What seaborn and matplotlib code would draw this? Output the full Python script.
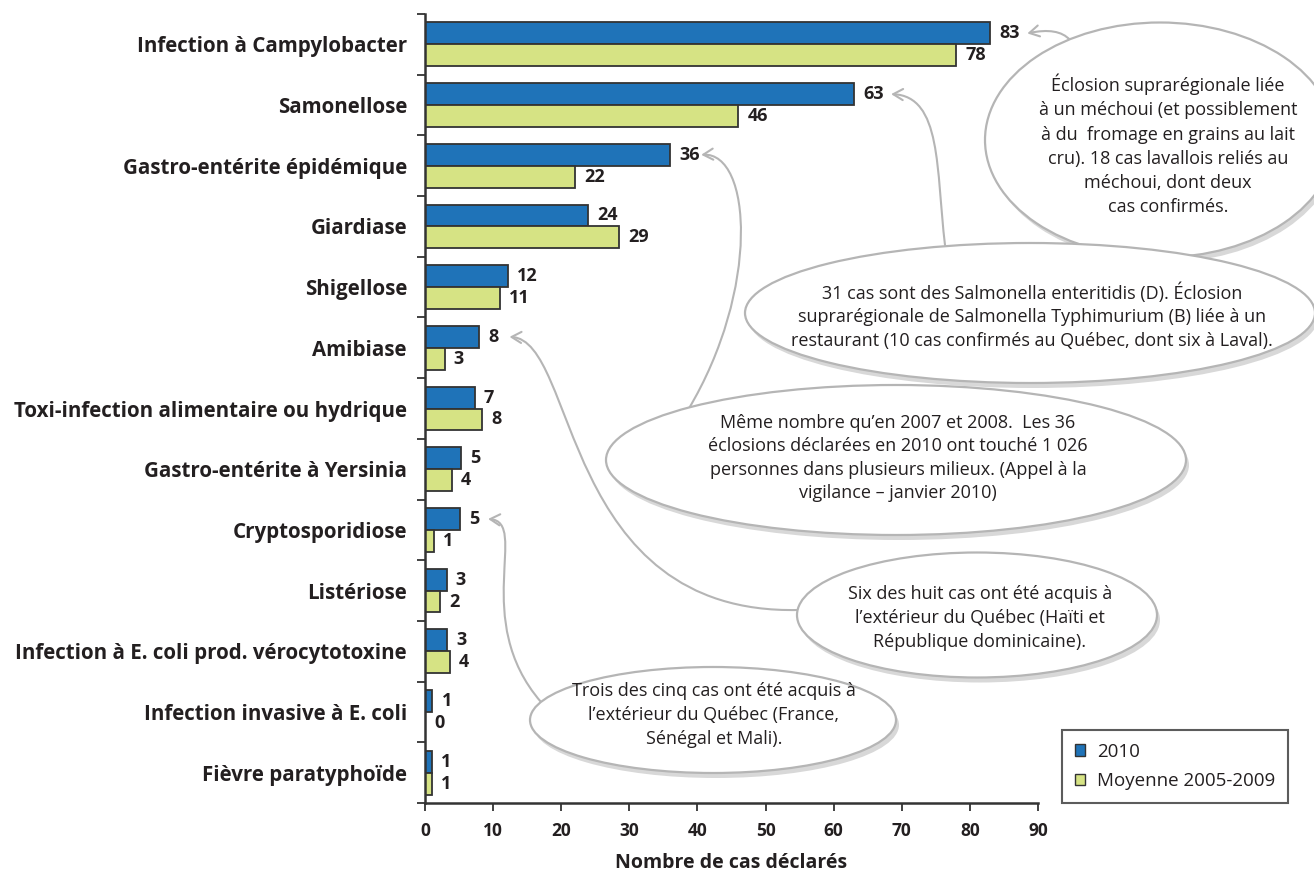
import numpy as np
import pandas as pd
import seaborn as sns
import matplotlib.pyplot as plt
from matplotlib.patches import Ellipse, Patch, FancyArrowPatch
from matplotlib.path import Path

maladies = ["Infection à Campylobacter", "Samonellose", "Gastro-entérite épidémique",
            "Giardiase", "Shigellose", "Amibiase", "Toxi-infection alimentaire ou hydrique",
            "Gastro-entérite à Yersinia", "Cryptosporidiose", "Listériose",
            "Infection à E. coli prod. vérocytotoxine", "Infection invasive à E. coli",
            "Fièvre paratyphoïde"]
cas_2010 = [83, 63, 36, 24, 12, 8, 7, 5, 5, 3, 3, 1, 1]
cas_moyenne = [78, 46, 22, 29, 11, 3, 8, 4, 1, 2, 4, 0, 1]
# bar lengths as drawn in the source (averages are not whole numbers)
bar_2010 = [83, 63, 36, 24, 12.2, 8, 7.3, 5.3, 5.1, 3.2, 3.3, 1.1, 1.0]
bar_moyenne = [78, 46, 22, 28.5, 11, 2.9, 8.4, 3.9, 1.3, 2.2, 3.7, 0, 1.0]
series = ["2010", "Moyenne 2005-2009"]
couleurs = ["#1f73b8", "#d6e384"]

notes = [
    "Éclosion suprarégionale liée\nà un méchoui (et possiblement\nà du  fromage en grains au lait\ncru). 18 cas lavallois reliés au\nméchoui, dont deux\ncas confirmés.",
    "31 cas sont des Salmonella enteritidis (D). Éclosion\nsuprarégionale de Salmonella Typhimurium (B) liée à un\nrestaurant (10 cas confirmés au Québec, dont six à Laval).",
    "Même nombre qu’en 2007 et 2008.  Les 36\néclosions déclarées en 2010 ont touché 1 026\npersonnes dans plusieurs milieux. (Appel à la\nvigilance – janvier 2010)",
    "Six des huit cas ont été acquis à\nl’extérieur du Québec (Haïti et\nRépublique dominicaine).",
    "Trois des cinq cas ont été acquis à\nl’extérieur du Québec (France,\nSénégal et Mali).",
]
# row each note points to
note_rows = [0, 1, 2, 5, 8]

df = pd.DataFrame({
    "maladie": maladies * 2,
    "cas": bar_2010 + bar_moyenne,
    "serie": [series[0]] * len(maladies) + [series[1]] * len(maladies),
})

sns.set_style("white")
plt.rcParams["font.family"] = ["Open Sans", "DejaVu Sans"]
txt = "#231f20"

fig = plt.figure(figsize=(13.14, 8.72), dpi=100)
ax = fig.add_axes([425 / 1314, 1 - 803 / 872, (1038 - 425) / 1314, (803 - 14) / 872])

sns.barplot(data=df, x="cas", y="maladie", hue="serie", hue_order=series,
            palette=couleurs, saturation=1, orient="h", width=0.72, edgecolor="#333333",
            linewidth=1.3, legend=False, ax=ax)

ax.set_xlim(0, 90)
ax.set_ylim(12.5, -0.5)
ax.set_xticks(np.arange(0, 91, 10))
ax.set_xticklabels([str(v) for v in range(0, 91, 10)], fontweight="bold", fontsize=12.5, color=txt)
ax.set_yticks(range(len(maladies)))
ax.set_yticklabels(maladies, fontweight="bold", fontsize=14.8, color=txt)
ax.set_yticks(np.arange(-0.5, len(maladies)), minor=True)
ax.tick_params(axis="y", which="major", length=0, pad=13)
ax.tick_params(axis="y", which="minor", left=True, length=6, width=1.3, color="#333333", direction="out")
ax.tick_params(axis="x", bottom=True, length=6, width=1.3, color="#333333", direction="out", pad=8)
ax.set_xlabel("Nombre de cas déclarés", fontweight="bold", fontsize=14, color=txt, labelpad=9)
ax.set_ylabel("")
for s in ["top", "right"]:
    ax.spines[s].set_visible(False)
for s in ["left", "bottom"]:
    ax.spines[s].set_color("#333333")
    ax.spines[s].set_linewidth(1.8)

# value labels
off = 0.18
for i in range(len(maladies)):
    ax.annotate(str(cas_2010[i]), (bar_2010[i], i - off), xytext=(6.5, 0), textcoords="offset points",
                va="center", ha="left", fontweight="bold", fontsize=13, color=txt)
    ax.annotate(str(cas_moyenne[i]), (bar_moyenne[i], i + off), xytext=(6.5, 0), textcoords="offset points",
                va="center", ha="left", fontweight="bold", fontsize=13, color=txt)

# legend
handles = [Patch(facecolor=c, edgecolor="#333333", linewidth=1) for c in couleurs]
leg = fig.legend(handles, series, loc="lower left", bbox_to_anchor=(1062 / 1314, 1 - 803 / 872),
                 frameon=True, fancybox=False, fontsize=13.5, handlelength=0.55, handleheight=0.55,
                 handletextpad=0.6, labelspacing=0.6, borderpad=0.7, borderaxespad=0)
leg.get_frame().set_edgecolor("#333333")
leg.get_frame().set_linewidth(1.5)
for t in leg.get_texts():
    t.set_color(txt)

# overlay in pixel coordinates for the callouts
ov = fig.add_axes([0, 0, 1, 1], zorder=5)
ov.set_xlim(0, 1314)
ov.set_ylim(872, 0)
ov.axis("off")
ov.patch.set_alpha(0)

ellipses = [(1160, 140, 350, 235), (1030, 313, 570, 140), (896, 460, 580, 150),
            (977, 615, 360, 125), (713, 720, 366, 106)]
text_pos = [(1168, 145), (1032, 316), (898, 458), (980, 618), (714, 715)]
for k, (cx, cy, w, h) in enumerate(ellipses):
    ov.add_patch(Ellipse((cx + 3, cy + 5), w, h, facecolor="#d8d8d8", edgecolor="none", zorder=2 + 2 * k))
    ov.add_patch(Ellipse((cx, cy), w, h, facecolor="white", edgecolor="#b5b5b5", linewidth=1.6,
                         zorder=3 + 2 * k))
    ov.text(text_pos[k][0], text_pos[k][1], notes[k], ha="center", va="center", fontsize=13, color=txt,
            linespacing=1.45 if k == 0 else 1.4, zorder=3 + 2 * k)


def tip(row, dx):
    px = ax.transData.transform((cas_2010[row], row - off))
    x, y = ov.transData.inverted().transform(px)
    return (x + dx, y)


fig.canvas.draw()
tips = [tip(note_rows[0], 37), tip(note_rows[1], 37), tip(note_rows[2], 31),
        tip(note_rows[3], 30), tip(note_rows[4], 29)]
chemins = [
    [(1070, 40), (1062, 31), (1048, 29)],
    [(945, 245), (936, 170), (942, 96)],
    [(688, 410), (760, 290), (752, 152)],
    [(798, 610), (560, 615), (578, 340)],
    [(541, 702), (470, 620), (530, 522)],
]
for pts, t in zip(chemins, tips):
    verts = pts + [t]
    p = Path(verts, [Path.MOVETO, Path.CURVE4, Path.CURVE4, Path.CURVE4])
    ov.add_patch(FancyArrowPatch(path=p, arrowstyle="->,head_length=7,head_width=4",
                                 color="#b5b5b5", linewidth=1.5, zorder=1))

fig.savefig("out.png", dpi=100)
